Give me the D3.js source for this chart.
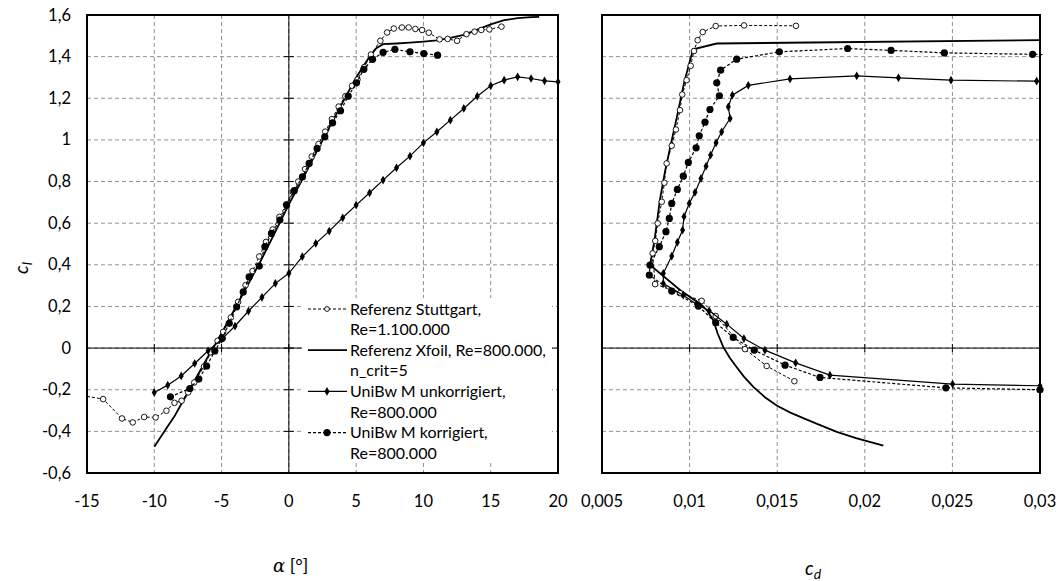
<!DOCTYPE html>
<html>
<head>
<meta charset="utf-8">
<script src="https://cdn.jsdelivr.net/npm/d3@7"></script>
<style>
  body { margin: 0; background: #fff; }
  text { font-family: Lato, "Open Sans", sans-serif; fill: #000; }
</style>
</head>
<body>
<svg id="chart"></svg>
<script>
var w = 1062, h = 581;

// tick values
var alphaTicks = [-15, -10, -5, 0, 5, 10, 15, 20];
var clTicks = [-0.6, -0.4, -0.2, 0, 0.2, 0.4, 0.6, 0.8, 1, 1.2, 1.4, 1.6];
var cdTicks = [0.005, 0.01, 0.015, 0.02, 0.025, 0.03];

// cl over alpha
var stuttgartLift = [[-15,-0.232],[-13.8,-0.245],[-12.4,-0.338],[-11.6,-0.357],[-10.75,-0.331],[-9.9,-0.333],[-9.1,-0.301],
  [-8.5,-0.263],[-7.97,-0.253],[-7.48,-0.213],[-7.03,-0.165],[-6.3,-0.088],[-5.8,-0.02],[-5.3,0.035],[-4.88,0.078],
  [-4.31,0.147],[-3.77,0.222],[-3.22,0.302],[-2.7,0.37],[-2.2,0.44],[-1.7,0.51],[-1.2,0.57],[-0.7,0.63],[-0.2,0.69],
  [0.3,0.75],[0.7,0.8],[1.2,0.86],[1.7,0.92],[2.2,0.98],[2.7,1.04],[3.2,1.1],[3.7,1.16],[4.2,1.21],[4.7,1.26],
  [5.1,1.29],[5.6,1.35],[6.1,1.41],[6.8,1.476],[7.3,1.516],[7.8,1.535],[8.4,1.54],[8.9,1.54],[9.4,1.533],[9.9,1.528],
  [10.4,1.515],[11.2,1.483],[11.8,1.485],[12.5,1.476],[13.2,1.508],[13.8,1.52],[14.3,1.528],[14.9,1.531],[15.8,1.544]];
var xfoilLift = [[-10,-0.474],[-9.5,-0.425],[-9,-0.375],[-8.5,-0.328],[-8,-0.27],[-7.5,-0.213],[-7,-0.155],[-6.5,-0.098],
  [-6,-0.04],[-5.5,0.015],[-5,0.072],[-4,0.19],[-3,0.31],[-2,0.43],[-1,0.56],[0,0.69],[1,0.81],[2,0.935],[3,1.06],
  [4,1.18],[5,1.3],[6,1.4],[6.5,1.44],[7,1.46],[8,1.463],[9,1.467],[10,1.472],[11,1.478],[12,1.49],[13,1.505],
  [14,1.53],[15,1.555],[16,1.575],[17,1.585],[18,1.59],[18.6,1.591]];
var unkorrLift = [[-10,-0.213],[-9,-0.178],[-8,-0.134],[-7,-0.074],[-6,-0.013],[-5,0.042],[-4,0.106],[-3,0.178],
  [-2,0.244],[-1,0.311],[0,0.359],[1,0.439],[2,0.503],[3,0.562],[4,0.626],[5,0.687],[6,0.746],[7,0.807],[8,0.866],
  [9,0.922],[10,0.986],[11,1.039],[12,1.095],[13,1.151],[14,1.21],[15,1.26],[16,1.287],[17,1.303],[18,1.295],
  [19,1.284],[20,1.279]];
var korrLift = [[-8.8,-0.234],[-7.36,-0.194],[-6.69,-0.149],[-6.11,-0.086],[-5.5,-0.014],[-4.95,0.047],[-4.43,0.119],
  [-3.88,0.198],[-3.39,0.27],[-2.95,0.342],[-2.2,0.394],[-1.78,0.487],[-1.29,0.551],[-0.67,0.615],[-0.17,0.687],
  [0.4,0.756],[1.01,0.823],[1.51,0.887],[2.1,0.959],[2.67,1.015],[3.25,1.082],[3.84,1.14],[4.41,1.21],[5.03,1.274],
  [5.57,1.339],[6.22,1.387],[7,1.42],[7.88,1.435],[9,1.423],[10.03,1.415],[11.05,1.407]];

// cl over cd
var stuttgartPolar = [[0.01598,-0.159],[0.0144,-0.086],[0.01316,-0.005],[0.01149,0.154],[0.01069,0.227],[0.00945,0.264],
  [0.00803,0.307],[0.00789,0.455],[0.00804,0.515],[0.00818,0.599],[0.00841,0.703],[0.00856,0.794],[0.00869,0.887],
  [0.00898,0.972],[0.00922,1.05],[0.00945,1.143],[0.00958,1.218],[0.00983,1.287],[0.01006,1.356],[0.01025,1.427],
  [0.01046,1.479],[0.01075,1.518],[0.01149,1.547],[0.01311,1.55],[0.01607,1.548]];
var xfoilPolar = [[0.02106,-0.469],[0.0195,-0.432],[0.0184,-0.402],[0.01745,-0.37],[0.01659,-0.34],[0.01575,-0.31],
  [0.01497,-0.276],[0.0143,-0.236],[0.01364,-0.186],[0.0131,-0.137],[0.01269,-0.092],[0.01228,-0.045],[0.01192,0.006],
  [0.0116,0.07],[0.01135,0.134],[0.011,0.18],[0.01069,0.207],[0.00945,0.279],[0.00774,0.4],[0.008,0.52],
  [0.0083,0.71],[0.0086,0.85],[0.0089,0.967],[0.0093,1.12],[0.0097,1.28],[0.0102,1.435],[0.01155,1.463],
  [0.0169,1.468],[0.03,1.479]];
var unkorrPolar = [[0.03,-0.181],[0.02501,-0.173],[0.01801,-0.13],[0.01605,-0.071],[0.0143,-0.01],[0.0131,0.046],
  [0.01212,0.115],[0.01112,0.179],[0.0104,0.211],[0.00964,0.254],[0.0085,0.31],[0.0085,0.359],[0.00898,0.442],
  [0.0093,0.508],[0.0096,0.567],[0.00968,0.631],[0.00998,0.695],[0.01031,0.748],[0.01065,0.815],[0.01094,0.874],
  [0.0112,0.927],[0.01151,0.986],[0.01183,1.039],[0.01231,1.103],[0.01221,1.159],[0.01244,1.215],[0.01335,1.262],
  [0.01573,1.293],[0.01954,1.308],[0.02192,1.298],[0.02492,1.287],[0.02981,1.282]];
var korrPolar = [[0.03,-0.2],[0.02463,-0.191],[0.01744,-0.141],[0.01545,-0.082],[0.01369,-0.01],[0.01249,0.051],
  [0.01149,0.122],[0.0105,0.202],[0.00898,0.274],[0.0077,0.351],[0.00774,0.399],[0.00827,0.487],[0.00865,0.559],
  [0.00884,0.623],[0.00898,0.695],[0.0093,0.762],[0.00964,0.826],[0.00993,0.892],[0.01037,0.962],[0.01055,1.02],
  [0.01088,1.085],[0.01116,1.146],[0.0117,1.212],[0.01155,1.274],[0.01177,1.335],[0.01269,1.388],[0.01512,1.423],
  [0.01902,1.439],[0.0215,1.43],[0.02454,1.418],[0.02958,1.411],[0.0302,1.41]];

var legendLabels = [["Referenz Stuttgart,", "Re=1.100.000"], ["Referenz Xfoil, Re=800.000,", "n_crit=5"],
  ["UniBw M unkorrigiert,", "Re=800.000"], ["UniBw M korrigiert,", "Re=800.000"]];

var plotTop = 15, plotBottom = 473;
var comma = function(v) { return String(+v.toFixed(3)).replace(".", ","); };

var svg = d3.select("#chart").attr("width", w).attr("height", h);

var y = d3.scaleLinear().domain([-0.6, 1.6]).range([plotBottom, plotTop]);
var xA = d3.scaleLinear().domain([-15, 20]).range([87, 558]);
var xD = d3.scaleLinear().domain([0.005, 0.03]).range([602, 1040]);

var diamond = d3.symbol().type(d3.symbolDiamond).size(22);

function panel(x, xticks, showY, showZeroX) {
  var g = svg.append("g");
  var x0 = x.range()[0], x1 = x.range()[1];

  // grid
  g.selectAll(".gx").data(xticks).enter().append("line")
    .attr("x1", function(d){ return x(d); }).attr("x2", function(d){ return x(d); })
    .attr("y1", plotTop).attr("y2", plotBottom)
    .style("stroke", "#8f8f8f").style("stroke-dasharray", "4,3");
  g.selectAll(".gy").data(clTicks).enter().append("line")
    .attr("x1", x0).attr("x2", x1)
    .attr("y1", function(d){ return y(d); }).attr("y2", function(d){ return y(d); })
    .style("stroke", "#8f8f8f").style("stroke-dasharray", "4,3");

  // zero lines with crossing ticks
  g.append("line").attr("x1", x0).attr("x2", x1).attr("y1", y(0)).attr("y2", y(0))
    .style("stroke", "#000").style("stroke-width", 1);
  g.selectAll(".tx").data(xticks).enter().append("line")
    .attr("x1", function(d){ return x(d); }).attr("x2", function(d){ return x(d); })
    .attr("y1", y(0) - 4).attr("y2", y(0) + 4).style("stroke", "#000");
  if (showZeroX) {
    g.append("line").attr("x1", x(0)).attr("x2", x(0)).attr("y1", plotTop).attr("y2", plotBottom)
      .style("stroke", "#000").style("stroke-width", 1);
    g.selectAll(".ty").data(clTicks).enter().append("line")
      .attr("x1", x(0) - 5).attr("x2", x(0) + 5)
      .attr("y1", function(d){ return y(d); }).attr("y2", function(d){ return y(d); })
      .style("stroke", "#000");
  }

  // tick labels
  g.selectAll(".lx").data(xticks).enter().append("text")
    .attr("x", function(d){ return x(d); }).attr("y", 507)
    .attr("text-anchor", "middle").style("font-size", "16.5px").text(comma);
  if (showY) {
    g.selectAll(".ly").data(clTicks).enter().append("text")
      .attr("x", 71).attr("y", function(d){ return y(d) + 5.5; })
      .attr("text-anchor", "end").style("font-size", "16.5px").text(comma);
  }
  return g;
}

function series(g, x, data, opts) {
  var line = d3.line().x(function(d){ return x(d[0]); }).y(function(d){ return y(d[1]); });
  g.append("path").datum(data).attr("d", line)
    .style("fill", "none").style("stroke", "#000")
    .style("stroke-width", opts.width || 1.2)
    .style("stroke-dasharray", opts.dash || null);
  if (opts.marker === "open") {
    g.selectAll(null).data(data.filter(function(d){ return d[0] > x.domain()[0]; })).enter().append("circle")
      .attr("cx", function(d){ return x(d[0]); }).attr("cy", function(d){ return y(d[1]); })
      .attr("r", 2.8).style("fill", "#fff").style("stroke", "#000").style("stroke-width", 0.9);
  } else if (opts.marker === "dot") {
    g.selectAll(null).data(data.filter(function(d){ return d[0] <= x.domain()[1]; })).enter().append("circle")
      .attr("cx", function(d){ return x(d[0]); }).attr("cy", function(d){ return y(d[1]); })
      .attr("r", 3.6).style("fill", "#000");
  } else if (opts.marker === "diamond") {
    g.selectAll(null).data(data).enter().append("path")
      .attr("d", diamond)
      .attr("transform", function(d){ return "translate(" + x(d[0]) + "," + y(d[1]) + ")"; })
      .style("fill", "#000");
  }
}

var left = panel(xA, alphaTicks, true, true);
series(left, xA, xfoilLift, {width: 1.8});
series(left, xA, stuttgartLift, {dash: "3,2", marker: "open", width: 1});
series(left, xA, unkorrLift, {marker: "diamond", width: 1.2});
series(left, xA, korrLift, {dash: "3,2", marker: "dot", width: 1.2});

var right = panel(xD, cdTicks, false, false);
series(right, xD, xfoilPolar, {width: 1.8});
series(right, xD, stuttgartPolar, {dash: "3,2", marker: "open", width: 1});
series(right, xD, unkorrPolar, {marker: "diamond", width: 1.2});
series(right, xD, korrPolar, {dash: "3,2", marker: "dot", width: 1.2});

// frames
[xA, xD].forEach(function(x) {
  svg.append("rect").attr("x", x.range()[0]).attr("y", plotTop)
    .attr("width", x.range()[1] - x.range()[0]).attr("height", plotBottom - plotTop)
    .style("fill", "none").style("stroke", "#000").style("stroke-width", 2);
});

// legend
var lg = svg.append("g");
lg.append("rect").attr("x", 302).attr("y", 298).attr("width", 250).attr("height", 162).style("fill", "#fff");
var styles = [{dash: "3,2", marker: "open"}, {width: 1.8}, {marker: "diamond"}, {dash: "3,2", marker: "dot"}];
legendLabels.forEach(function(lab, i) {
  var ly = 309 + i * 41.2;
  lg.append("line").attr("x1", 308).attr("x2", 347).attr("y1", ly).attr("y2", ly)
    .style("stroke", "#000").style("stroke-width", styles[i].width || 1.2)
    .style("stroke-dasharray", styles[i].dash || null);
  if (styles[i].marker === "open") {
    lg.append("circle").attr("cx", 327).attr("cy", ly).attr("r", 2.4)
      .style("fill", "#fff").style("stroke", "#000").style("stroke-width", 0.9);
  } else if (styles[i].marker === "dot") {
    lg.append("circle").attr("cx", 327).attr("cy", ly).attr("r", 3.6).style("fill", "#000");
  } else if (styles[i].marker === "diamond") {
    lg.append("path").attr("d", diamond).attr("transform", "translate(327," + ly + ")").style("fill", "#000");
  }
  lab.forEach(function(t, j) {
    lg.append("text").attr("x", 350).attr("y", ly + 5.5 + j * 20.6)
      .style("font-size", "16px").text(t);
  });
});

// axis titles
var yl = svg.append("text").attr("transform", "translate(28,268) rotate(-90)")
  .attr("text-anchor", "middle").style("font-size", "19px");
yl.append("tspan").style("font-style", "italic").text("c");
yl.append("tspan").style("font-style", "italic").style("font-size", "14px").attr("dy", 4).text("l");

var xl = svg.append("text").attr("x", 273).attr("y", 572).style("font-size", "18px");
xl.append("tspan").style("font-family", "'DejaVu Serif', serif").style("font-style", "italic").text("α");
xl.append("tspan").text(" [°]");

var dl = svg.append("text").attr("x", 805).attr("y", 575).style("font-size", "19px");
dl.append("tspan").style("font-style", "italic").text("c");
dl.append("tspan").style("font-style", "italic").style("font-size", "14px").attr("dy", 4).text("d");
</script>
</body>
</html>
